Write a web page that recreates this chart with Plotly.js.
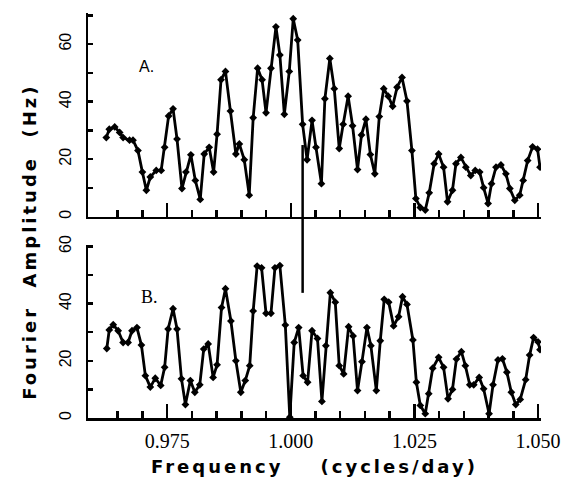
<!DOCTYPE html>
<html>
<head>
<meta charset="utf-8">
<script src="https://cdn.plot.ly/plotly-3.0.1.min.js"></script>
<style>
html,body{margin:0;padding:0;background:#fff;}
#chart{width:563px;height:479px;}
#chart .xtitle{letter-spacing:3px;}
#chart g.annotation[data-index="2"] text{letter-spacing:3px;}
</style>
</head>
<body>
<div id="chart"></div>
<script>
// Panel A
const freqA = [0.9627,0.9633,0.9644,0.9654,0.9661,0.9674,0.9681,0.9691,0.9700,0.9708,
0.9716,0.9728,0.9738,0.9745,0.9753,0.9762,0.9770,0.9780,0.9788,0.9798,
0.9807,0.9817,0.9825,0.9835,0.9844,0.9851,0.9859,0.9868,0.9878,0.9889,
0.9896,0.9906,0.9916,0.9924,0.9933,0.9942,0.9950,0.9960,0.9970,0.9978,
0.9987,0.9997,1.0005,1.0014,1.0024,1.0033,1.0043,1.0051,1.0062,1.0069,
1.0079,1.0088,1.0098,1.0106,1.0116,1.0125,1.0135,1.0143,1.0152,1.0161,
1.0170,1.0179,1.0188,1.0197,1.0206,1.0215,1.0225,1.0235,1.0245,1.0253,
1.0262,1.0272,1.0280,1.0290,1.0299,1.0309,1.0317,1.0327,1.0334,1.0344,
1.0354,1.0364,1.0373,1.0382,1.0390,1.0399,1.0406,1.0415,1.0425,1.0435,
1.0443,1.0453,1.0463,1.0470,1.0479,1.0489,1.0499,1.0504];
const ampA = [27.5,30.4,31.2,29.3,27.5,26.6,26.6,23,15.5,9.2,
13.8,16.1,16.1,24.1,35,37.5,27,9.8,15.5,21.5,
12.6,6,21.8,24.1,15.5,28.7,47.6,50.5,36.7,21.8,
25.3,19.8,7.5,34.4,51.6,47.6,36.1,51.6,66,56.2,
35.6,50.5,68.8,61.4,32.1,19.8,33.5,24.1,11.5,41,
55,44.5,23.7,32.1,41.9,31.6,16.4,28.4,33.9,21.6,
14.9,34.8,44.5,41.9,38.4,45,48.4,40.2,23,6.3,
3.2,2.3,8.3,18.4,21.8,17.2,5.2,9.2,18.4,20.6,
17.2,14.3,16.1,15.5,10.1,4.6,11.5,17.2,18,14.9,
9.8,5.7,7.5,12.6,19.5,24.3,23.5,17.2];
// Panel B
const freqB = [0.9628,0.9633,0.9641,0.9651,0.9661,0.9671,0.9679,0.9689,0.9698,0.9706,
0.9716,0.9726,0.9737,0.9745,0.9752,0.9762,0.9770,0.9779,0.9787,0.9797,
0.9806,0.9816,0.9824,0.9833,0.9843,0.9851,0.9860,0.9868,0.9879,0.9889,
0.9899,0.9908,0.9917,0.9924,0.9932,0.9941,0.9950,0.9960,0.9968,0.9978,
0.9989,0.9998,1.0007,1.0016,1.0025,1.0034,1.0043,1.0054,1.0063,1.0071,
1.0080,1.0090,1.0098,1.0107,1.0117,1.0126,1.0135,1.0144,1.0154,1.0162,
1.0173,1.0181,1.0189,1.0198,1.0208,1.0218,1.0226,1.0235,1.0247,1.0254,
1.0262,1.0272,1.0279,1.0287,1.0299,1.0309,1.0318,1.0327,1.0335,1.0345,
1.0353,1.0362,1.0370,1.0381,1.0390,1.0401,1.0409,1.0419,1.0428,1.0437,
1.0446,1.0455,1.0464,1.0475,1.0483,1.0491,1.0500,1.0504];
const ampB = [24.3,30.8,32.6,30.5,26.4,26.4,30.5,31.6,25.5,14.8,
10.8,13.9,11.4,17.7,31.1,38.2,31.1,13.7,4.7,13.1,
9,11.6,24.1,25.9,14.2,18.6,38.6,45.2,33.9,20,
9,13.1,18.3,37.4,53.1,52.5,36.6,36.6,52.5,53.3,
32.5,0.3,26.4,31.6,14.8,12.5,30.5,27.8,5.8,25.3,
43.8,40.5,18.3,15.4,31.9,28.7,9.6,19.7,31.6,25.3,
9.6,27,41.5,40.5,32.2,35.4,42.4,39.7,27.3,12.5,
4.4,1.5,8.5,17.4,21.2,17.7,6.7,10,20.6,23.2,
18.3,11.6,11.6,14.2,10.2,1.5,11.6,20.3,20.7,16,
9,4.7,6.5,13.4,22,28.1,26.6,23.9];
// Marker frequency (vertical line)
const markerFreq = 1.0024;
// Ticks
const xTickVals = [0.975, 1.000, 1.025, 1.050];
const xTickText = ["0.975", "1.000", "1.025", "1.050"];
const xMinorVals = [0.965,0.970,0.980,0.985,0.990,0.995,1.005,1.010,1.015,1.020,1.030,1.035,1.040,1.045];
const yTickVals = [0, 20, 40, 60];
const yTickText = ["0", "20", "40", "60"];
const yMinorA = [10, 30, 50, 70];
const yMinorB = [10, 30, 50];
const panelLabels = ["A.", "B."];

const lineStyle = {color: "#000", width: 2.8};
const markerStyle = {symbol: "diamond", size: 6, color: "#000"};

const traces = [
  {x: freqA, y: ampA, xaxis: "x2", yaxis: "y2", mode: "lines+markers", line: lineStyle, marker: markerStyle, hoverinfo: "skip"},
  {x: freqB, y: ampB, xaxis: "x", yaxis: "y", mode: "lines+markers", line: lineStyle, marker: markerStyle, hoverinfo: "skip"}
];

const xBase = {
  range: [0.9590, 1.0506], showgrid: false, zeroline: false,
  showline: true, linecolor: "#000", linewidth: 2.5,
  tickmode: "array", tickvals: xTickVals, ticktext: xTickText,
  ticks: "inside", ticklen: 14, tickwidth: 2.5, tickcolor: "#000",
  minor: {tickmode: "array", tickvals: xMinorVals, ticks: "inside", ticklen: 7, tickwidth: 2.5, tickcolor: "#000", showgrid: false}
};
const yBase = {
  showgrid: false, zeroline: false, showline: true, linecolor: "#000", linewidth: 2.5,
  tickmode: "array", tickvals: yTickVals, ticktext: yTickText,
  ticks: "inside", ticklen: 5, tickwidth: 2.5, tickcolor: "#000",
  tickangle: -90, ticklabelstandoff: 8,
  tickfont: {family: "Liberation Sans, Arial, sans-serif", size: 16, color: "#000"}
};

const layout = {
  width: 563, height: 479,
  margin: {l: 88, r: 22, t: 13, b: 61},
  paper_bgcolor: "#fff", plot_bgcolor: "#fff",
  showlegend: false,
  xaxis: Object.assign({}, xBase, {
    anchor: "y", domain: [0, 1],
    tickfont: {family: "Liberation Serif, Times New Roman, serif", size: 20, color: "#000"},
    ticklabelstandoff: 3,
    title: {text: "Frequency\u00a0\u00a0\u00a0\u00a0(cycles/day)", standoff: 10,
      font: {family: "DejaVu Sans, sans-serif", size: 18, color: "#000", weight: "bold"}}
  }),
  xaxis2: Object.assign({}, xBase, {anchor: "y2", domain: [0, 1], matches: "x", showticklabels: false}),
  yaxis: Object.assign({}, yBase, {anchor: "x", domain: [0, 0.428], range: [0, 60.6],
    minor: {tickmode: "array", tickvals: yMinorB, ticks: "inside", ticklen: 5, tickwidth: 2.5, tickcolor: "#000", showgrid: false}}),
  yaxis2: Object.assign({}, yBase, {anchor: "x2", domain: [0.497, 1], range: [0, 70.8],
    minor: {tickmode: "array", tickvals: yMinorA, ticks: "inside", ticklen: 5, tickwidth: 2.5, tickcolor: "#000", showgrid: false}}),
  shapes: [
    {type: "line", xref: "x", yref: "paper", x0: markerFreq, x1: markerFreq, y0: 0.309, y1: 0.674,
     line: {color: "#000", width: 2.5}}
  ],
  annotations: [
    {text: panelLabels[0], xref: "paper", yref: "paper", x: 0.13, y: 0.867, xanchor: "center", yanchor: "middle", showarrow: false,
     font: {family: "Liberation Sans, Arial, sans-serif", size: 16, color: "#000"}},
    {text: panelLabels[1], xref: "paper", yref: "paper", x: 0.135, y: 0.30, xanchor: "center", yanchor: "middle", showarrow: false,
     font: {family: "Liberation Serif, Times New Roman, serif", size: 18, color: "#000"}},
    {text: "Fourier\u00a0\u00a0Amplitude\u00a0\u00a0(Hz)", xref: "paper", yref: "paper",
     x: -0.128, y: 0.435, xanchor: "center", yanchor: "middle", textangle: -90, showarrow: false,
     font: {family: "DejaVu Sans, sans-serif", size: 18, color: "#000", weight: "bold"}}
  ]
};

Plotly.newPlot("chart", traces, layout, {displayModeBar: false, staticPlot: true});
</script>
</body>
</html>
